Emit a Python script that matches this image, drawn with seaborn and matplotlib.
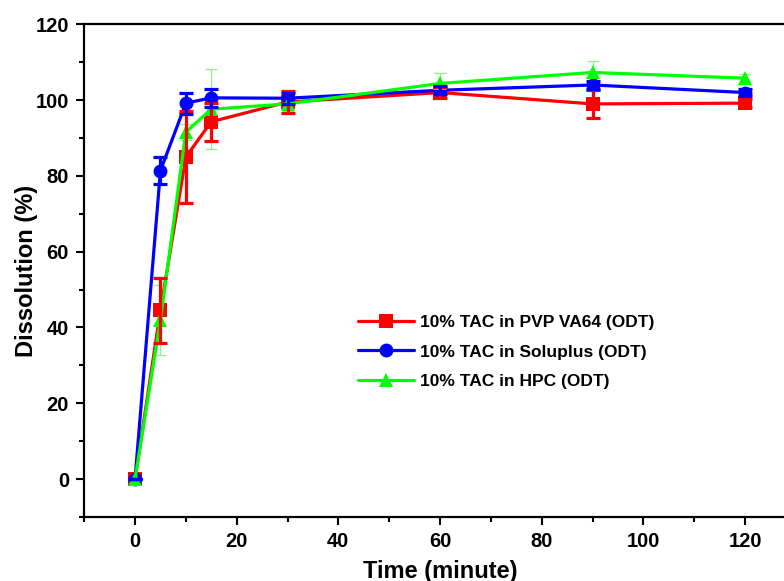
import pandas as pd
import matplotlib
matplotlib.use("Agg")
import matplotlib.pyplot as plt
import seaborn as sns
from matplotlib.ticker import MultipleLocator

# Data
time = [0, 5, 10, 15, 30, 60, 90, 120]

pvp = [0, 44.5, 85.0, 94.3, 99.5, 102.0, 99.0, 99.2]
pvp_err = [0, 8.5, 12.2, 5.0, 2.9, 1.5, 3.8, 1.0]

solu = [0, 81.4, 99.2, 100.6, 100.5, 102.6, 104.0, 102.0]
solu_err = [0, 3.5, 2.8, 2.3, 1.5, 1.0, 1.0, 1.0]

hpc = [0, 42.0, 91.6, 97.6, 99.0, 104.4, 107.3, 105.8]
hpc_err = [0, 9.3, 2.0, 10.5, 2.0, 2.8, 3.0, 1.0]

labels = ["10% TAC in PVP VA64 (ODT)",
          "10% TAC in Soluplus (ODT)",
          "10% TAC in HPC (ODT)"]
colors = ["#ff0000", "#0000ff", "#00ff00"]
markers = ["s", "o", "^"]

df = pd.concat([
    pd.DataFrame({"time": time, "value": v, "err": e, "sample": lab})
    for v, e, lab in zip([pvp, solu, hpc], [pvp_err, solu_err, hpc_err], labels)
])

sns.set_style("ticks")
plt.rcParams["font.family"] = ["Liberation Sans", "DejaVu Sans"]
plt.rcParams["font.weight"] = "bold"
plt.rcParams["text.color"] = "black"
plt.rcParams["axes.labelcolor"] = "black"
plt.rcParams["xtick.color"] = "black"
plt.rcParams["ytick.color"] = "black"
plt.rcParams["axes.edgecolor"] = "black"

fig = plt.figure(figsize=(7.84, 5.81), dpi=100)
ax = fig.add_axes([0.1074, 0.1103, 0.9077, 0.8478])

sns.lineplot(data=df, x="time", y="value", hue="sample", style="sample",
             palette=dict(zip(labels, colors)),
             markers=dict(zip(labels, markers)), dashes=False,
             linewidth=2.3, markersize=10, markeredgewidth=0,
             ax=ax, legend=True, zorder=3)

# error bars
for lab, col in zip(labels, colors):
    sub = df[df["sample"] == lab]
    if lab.endswith("HPC (ODT)"):
        ax.errorbar(sub["time"], sub["value"], yerr=sub["err"], fmt="none",
                    ecolor="#90ee90", elinewidth=0.9, capsize=4, capthick=0.9,
                    zorder=2)
    else:
        ax.errorbar(sub["time"], sub["value"], yerr=sub["err"], fmt="none",
                    ecolor=col, elinewidth=2.3, capsize=5, capthick=2.3,
                    zorder=4)

ax.set_xlim(-10, 130)
ax.set_ylim(-10, 120)
ax.xaxis.set_major_locator(MultipleLocator(20))
ax.xaxis.set_minor_locator(MultipleLocator(10))
ax.yaxis.set_major_locator(MultipleLocator(20))
ax.yaxis.set_minor_locator(MultipleLocator(10))
ax.set_xticks(range(0, 121, 20))

ax.tick_params(which="major", direction="out", length=6, width=1.5,
               labelsize=14.5, pad=5, colors="black")
ax.tick_params(which="minor", direction="out", length=3.5, width=1.5,
               colors="black")
ax.tick_params(top=False, right=False)
for s in ax.spines.values():
    s.set_linewidth(1.6)
    s.set_color("black")
    s.set_visible(True)
for t in ax.get_xticklabels() + ax.get_yticklabels():
    t.set_fontweight("bold")

ax.set_xlabel("Time (minute)", fontsize=17, fontweight="bold", labelpad=6)
ax.set_ylabel("Dissolution (%)", fontsize=17, fontweight="bold", labelpad=-2)

handles, labs = ax.get_legend_handles_labels()
ax.legend(handles, labs, loc="upper left", bbox_to_anchor=(358 / 784, 1 - 315 / 581),
          bbox_transform=fig.transFigure, frameon=False,
          prop={"weight": "bold", "size": 12.5}, handlelength=3.2,
          handletextpad=0.4, labelspacing=0.82, borderpad=0, borderaxespad=0)

fig.savefig("out.png", dpi=100)
